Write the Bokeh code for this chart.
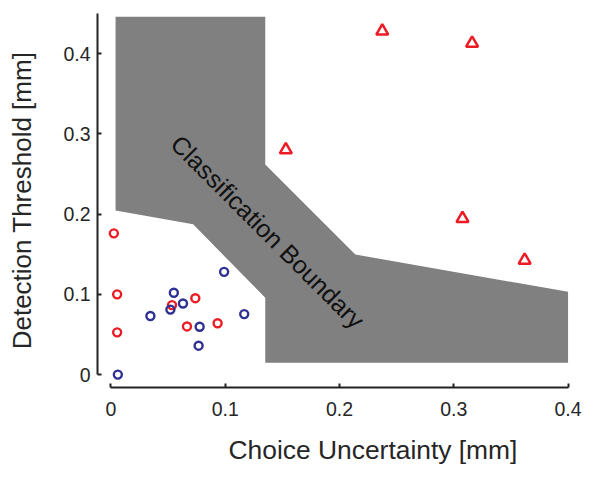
from bokeh.plotting import figure
from bokeh.models import Range1d, FixedTicker, Title
from bokeh.embed import file_html
from bokeh.resources import INLINE
from bokeh.core.properties import value

# Data
blue_x = [0.006, 0.0345, 0.052, 0.055, 0.063, 0.0776, 0.0767, 0.099, 0.1166]
blue_y = [0.000, 0.073, 0.081, 0.102, 0.0886, 0.0596, 0.036, 0.128, 0.0754]

red_x = [0.0025, 0.0054, 0.0054, 0.0534, 0.0738, 0.0665, 0.0933]
red_y = [0.176, 0.100, 0.0526, 0.0866, 0.0952, 0.060, 0.064]

tri_x = [0.153, 0.2374, 0.316, 0.3076, 0.362]
tri_y = [0.280, 0.428, 0.413, 0.1946, 0.1425]

bound_x = [0.004, 0.135, 0.135, 0.2138, 0.400, 0.400, 0.135, 0.135, 0.0719, 0.004]
bound_y = [0.446, 0.446, 0.2617, 0.1497, 0.1031, 0.0149, 0.0149, 0.0957, 0.1872, 0.2046]

x_ticks = [0, 0.1, 0.2, 0.3, 0.4]
x_labels = ["0", "0.1", "0.2", "0.3", "0.4"]
y_ticks = [0, 0.1, 0.2, 0.3, 0.4]
y_labels = ["0", "0.1", "0.2", "0.3", "0.4"]

FONT = "Liberation Sans"
TXT = "#262626"

p = figure(width=601, height=478,
           x_range=Range1d(-0.0118, 0.41), y_range=Range1d(-0.0161, 0.45),
           output_backend="svg", toolbar_location=None,
           min_border_left=97, min_border_right=22,
           min_border_top=13, min_border_bottom=91)
p.grid.visible = False
p.outline_line_color = None
p.background_fill_color = "white"

p.patch(bound_x, bound_y, fill_color="#808080", line_color=None)

p.text(x=[0.1372], y=[0.178], text=["Classification Boundary"],
       angle=-0.785, text_align="center", text_baseline="middle",
       text_font=value(FONT), text_font_size="25px", text_color="#111111")

p.scatter(red_x, red_y, marker="circle", size=8, line_width=2.4,
          line_color="#ed1c24", fill_color=None)
p.scatter(blue_x, blue_y, marker="circle", size=8, line_width=2.4,
          line_color="#2e3192", fill_color=None)
p.scatter(tri_x, tri_y, marker="triangle", size=12, line_width=2.5,
          line_color="#ed1c24", fill_color=None)

xa = p.xaxis[0]
xa.ticker = FixedTicker(ticks=x_ticks)
xa.major_label_overrides = {t: l for t, l in zip(x_ticks, x_labels)}
xa.bounds = (0, 0.4)
xa.major_label_standoff = 14

ya = p.yaxis[0]
ya.ticker = FixedTicker(ticks=y_ticks)
ya.major_label_overrides = {t: l for t, l in zip(y_ticks, y_labels)}
ya.bounds = (0, 0.45)
ya.axis_label = "Detection Threshold [mm]"
ya.major_label_standoff = 7
ya.axis_label_standoff = 23

for ax in (xa, ya):
    ax.minor_tick_line_color = None
    ax.major_tick_in = 4
    ax.major_tick_out = 0
    ax.major_tick_line_width = 2
    ax.major_tick_line_color = "#222222"
    ax.axis_line_width = 2
    ax.axis_line_color = "#222222"
    ax.major_label_text_font = FONT
    ax.major_label_text_font_size = "19.5px"
    ax.major_label_text_color = TXT
    ax.axis_label_text_font = FONT
    ax.axis_label_text_font_size = "26px"
    ax.axis_label_text_font_style = "normal"
    ax.axis_label_text_color = TXT

xlabel = Title(text="Choice Uncertainty [mm]", align="left", offset=131,
               standoff=28, text_font=FONT, text_font_size="26.4px",
               text_font_style="normal", text_color=TXT)
p.add_layout(xlabel, "below")

open("out.html", "w").write(file_html(p, INLINE))
